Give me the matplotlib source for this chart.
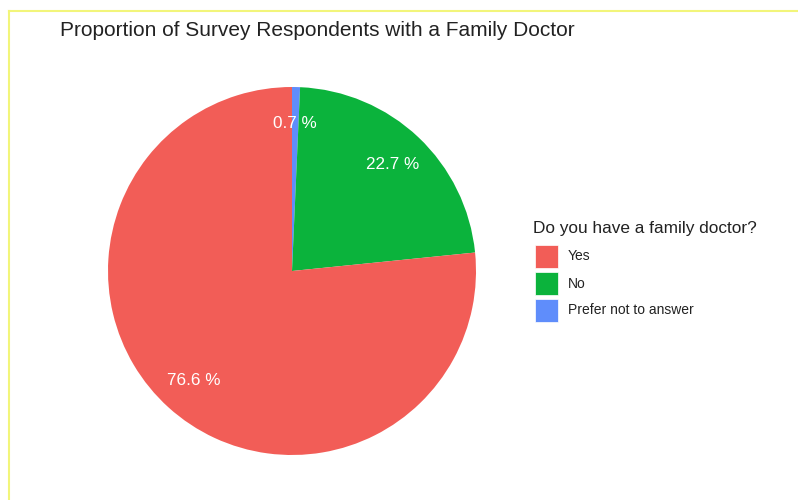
import matplotlib.pyplot as plt
from matplotlib.patches import Rectangle
from matplotlib.lines import Line2D

plt.rcParams['font.family'] = ['Liberation Sans', 'DejaVu Sans']

# data, in drawing order (clockwise from 12 o'clock)
categories = ['Prefer not to answer', 'No', 'Yes']
shares = [0.7, 22.7, 76.6]
colours = ['#5F8DFB', '#0BB33C', '#F25D57']
legend_order = ['Yes', 'No', 'Prefer not to answer']

W, H = 798, 500
fig = plt.figure(figsize=(W / 100, H / 100), dpi=100)

# pie axes: centre (292, 271) px, radius 184 px
cx, cy, r = 292, 271, 184
ax = fig.add_axes([(cx - r) / W, 1 - (cy + r) / H, 2 * r / W, 2 * r / H])
wedges, texts, autotexts = ax.pie(
    shares, colors=colours, startangle=90, counterclock=False,
    autopct=lambda p: '%.1f %%' % p, pctdistance=0.8,
    textprops=dict(color='white', fontsize=12.3),
    wedgeprops=dict(linewidth=0), radius=1.0)
ax.set_xlim(-1, 1)
ax.set_ylim(-1, 1)
ax.set_aspect('auto')
ax.axis('off')

fig.text(60 / W, 1 - 31 / H, 'Proportion of Survey Respondents with a Family Doctor',
         fontsize=15, color='#222222', va='center', ha='left')

# legend drawn by hand
fig.text(533 / W, 1 - 229 / H, 'Do you have a family doctor?',
         fontsize=12.4, color='#222222', va='center', ha='left')
for i, name in enumerate(legend_order):
    col = colours[categories.index(name)]
    top = 245 + i * 27
    fig.add_artist(Rectangle((535 / W, 1 - (top + 23) / H), 23 / W, 23 / H,
                             transform=fig.transFigure, facecolor=col, edgecolor='white',
                             linewidth=0.5))
    fig.text(568 / W, 1 - (top + 11.5) / H, name, fontsize=10, color='#222222',
             va='center', ha='left')

# thin yellow frame at top and left
fig.add_artist(Line2D([9 / W, 1], [1 - 11 / H, 1 - 11 / H], transform=fig.transFigure,
                      color='#F2F57A', linewidth=1.5))
fig.add_artist(Line2D([9 / W, 9 / W], [0, 1 - 11 / H], transform=fig.transFigure,
                      color='#F2F57A', linewidth=1.5))

fig.savefig('out.png', dpi=100)
